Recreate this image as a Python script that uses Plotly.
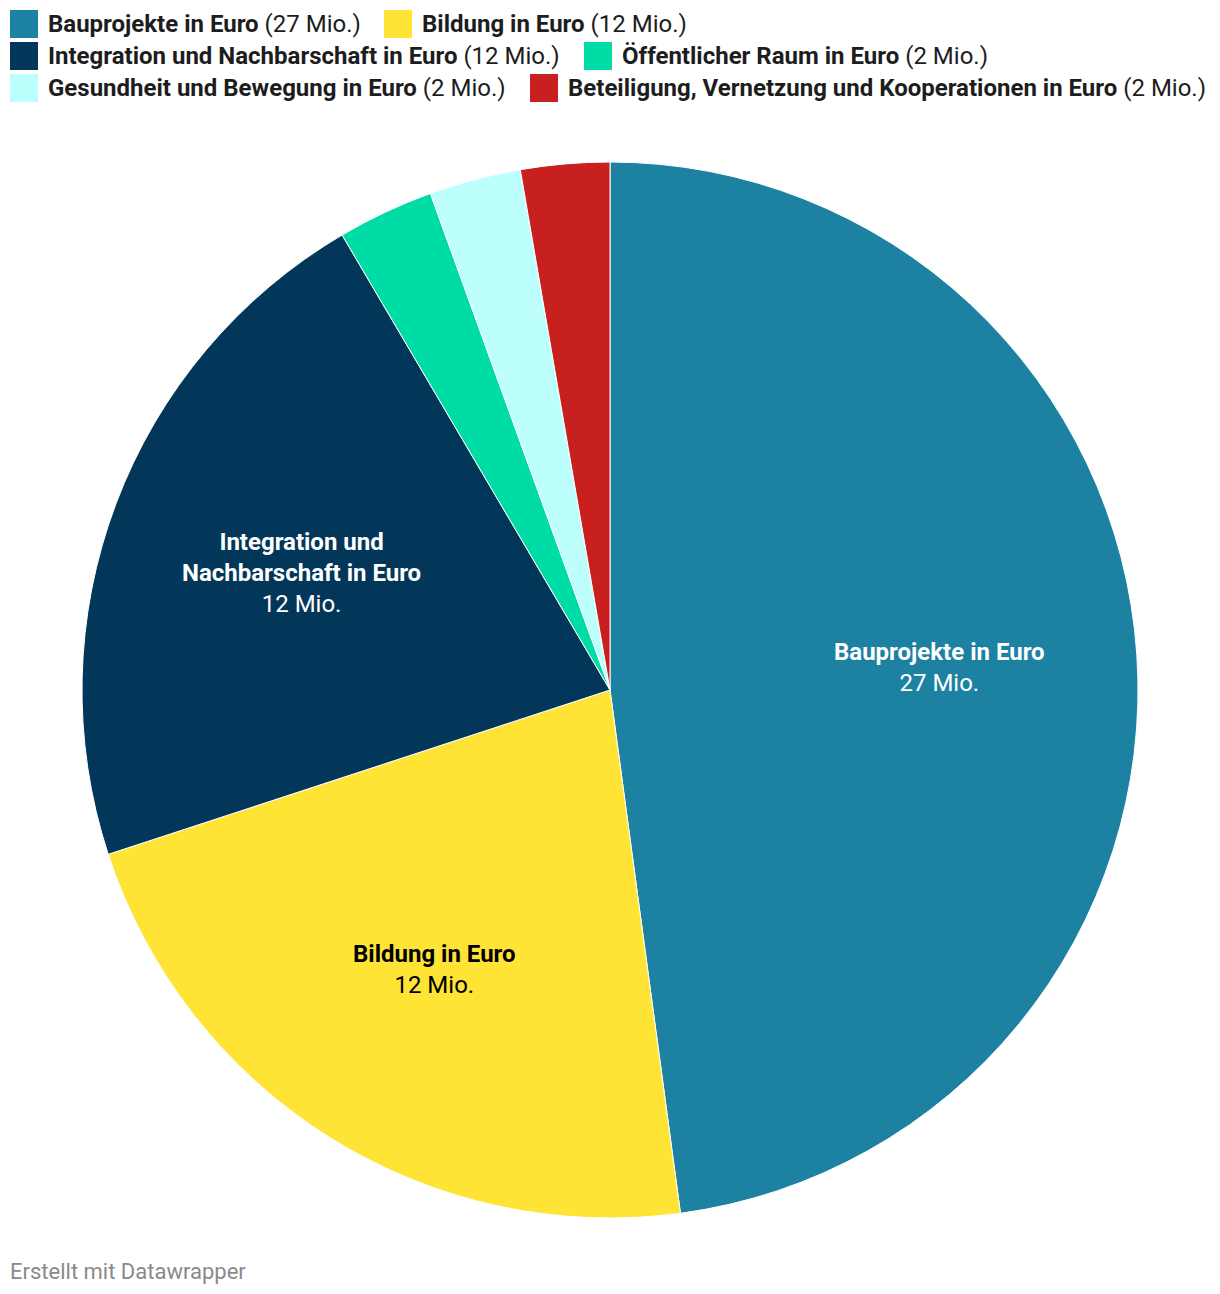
import math
import plotly.graph_objects as go

W, H = 1220, 1294
OFF = 8  # page body margin compensation (px)

categories = [
    "Bauprojekte in Euro",
    "Bildung in Euro",
    "Integration und Nachbarschaft in Euro",
    "Öffentlicher Raum in Euro",
    "Gesundheit und Bewegung in Euro",
    "Beteiligung, Vernetzung und Kooperationen in Euro",
]
values = [27.3, 12.6, 12.3, 1.68, 1.6, 1.55]
value_labels = ["27 Mio.", "12 Mio.", "12 Mio.", "2 Mio.", "2 Mio.", "2 Mio."]
slice_label_names = ["Bauprojekte in Euro", "Bildung in Euro",
                     "Integration und<br>Nachbarschaft in Euro", "", "", ""]
colors = ["#1d81a2", "#ffe335", "#03375a", "#00dca6", "#bcfffd", "#c81f1f"]
label_colors = ["#ffffff", "#000000", "#ffffff", "#ffffff", "#000000", "#ffffff"]


def px_x(x):
    return (x - OFF) / W


def px_y(y):
    return 1 - (y - OFF) / H


# pie placement (pixels, as seen on the page)
cx, cy, r = 610, 690, 528

fig = go.Figure(go.Pie(
    labels=categories,
    values=values,
    textinfo="none",
    marker=dict(colors=colors, line=dict(color="#ffffff", width=1)),
    sort=False,
    direction="clockwise",
    rotation=0,
    hoverinfo="label+value",
    showlegend=False,
    domain=dict(x=[px_x(cx - r), px_x(cx + r)],
                y=[px_y(cy + r), px_y(cy - r)]),
))

annotations = []
shapes = []

# slice labels (Datawrapper style, placed at 62.5% of radius on the mid-angle)
total = sum(values)
cum = 0.0
for v, name, vl, lc in zip(values, slice_label_names, value_labels, label_colors):
    mid = (cum + v / 2) / total * 2 * math.pi
    cum += v
    if not name:
        continue
    lx = cx + 0.625 * r * math.sin(mid)
    ly = cy - 0.625 * r * math.cos(mid)
    annotations.append(dict(
        xref="paper", yref="paper", x=px_x(lx), y=px_y(ly),
        xanchor="center", yanchor="middle", showarrow=False,
        text=f"<b>{name}</b><br>{vl}", align="center",
        font=dict(family="Roboto", size=24, color=lc),
    ))

# custom legend (Datawrapper style flow layout)
legend_pos = [  # (square_x, row) in px
    (10, 0), (384, 0),
    (10, 1), (584, 1),
    (10, 2), (530, 2),
]
row_y = [24, 56, 88]
sq = 28
for (sx, row), cat, vl, col in zip(legend_pos, categories, value_labels, colors):
    yc = row_y[row]
    shapes.append(dict(type="rect", xref="paper", yref="paper",
                       x0=px_x(sx), x1=px_x(sx + sq),
                       y0=px_y(yc + sq / 2), y1=px_y(yc - sq / 2),
                       fillcolor=col, line=dict(width=0)))
    annotations.append(dict(
        xref="paper", yref="paper", x=px_x(sx + sq + 10) - 2 / W, y=px_y(yc),
        xanchor="left", yanchor="middle", showarrow=False,
        text=f"<b>{cat}</b> ({vl})",
        font=dict(family="Roboto", size=24, color="#1d1d1d"),
    ))

annotations.append(dict(
    xref="paper", yref="paper", x=px_x(10) - 2 / W, y=px_y(1271),
    xanchor="left", yanchor="middle", showarrow=False,
    text="Erstellt mit Datawrapper",
    font=dict(family="Roboto", size=22, color="#8a8a8a"),
))

fig.update_layout(
    width=W, height=H,
    margin=dict(l=0, r=0, t=0, b=0),
    paper_bgcolor="#ffffff",
    plot_bgcolor="#ffffff",
    shapes=shapes,
    annotations=annotations,
    font=dict(family="Roboto"),
)

fig.write_html("out.html")
